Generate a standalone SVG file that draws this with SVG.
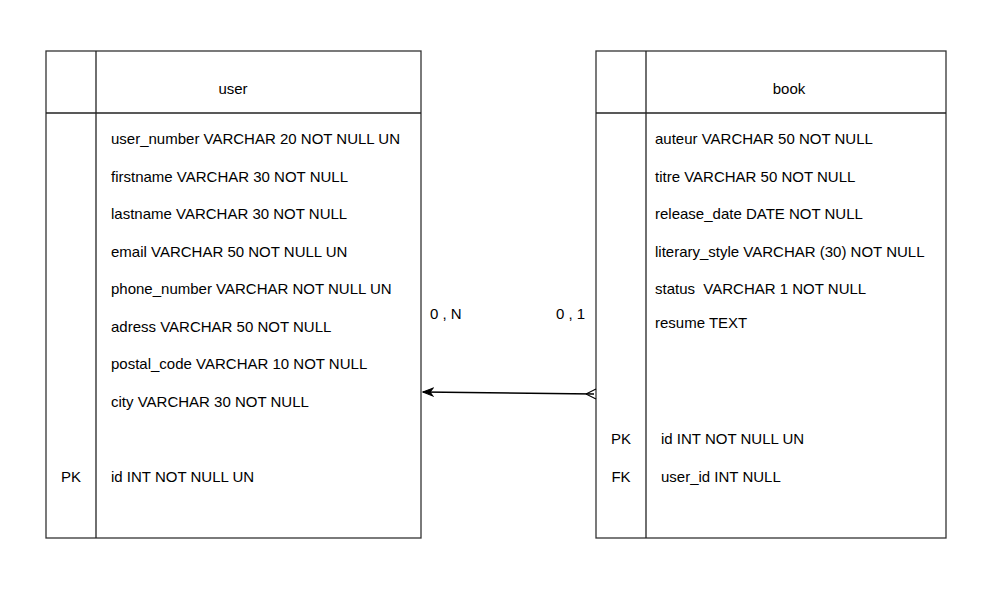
<svg xmlns="http://www.w3.org/2000/svg" width="997" height="596" viewBox="0 0 997 596">
<style>
.box{fill:#fff;stroke:#333;stroke-width:1.3}
.ln{stroke:#222;stroke-width:1.3;fill:none}
text{font-family:"Liberation Sans",Arial,sans-serif;font-size:15px;fill:#000;white-space:pre}
.c{text-anchor:middle}
</style>
<defs>
<marker id="arr" markerWidth="12" markerHeight="10" refX="11" refY="5" orient="auto" markerUnits="userSpaceOnUse">
<path d="M1,1 L11,5 L1,9 L4,5 Z" fill="#000" stroke="#000" stroke-width="1"/>
</marker>
</defs>
<rect width="997" height="596" fill="#fff"/>
<g id="user">
<rect class="box" x="46" y="51" width="375" height="487"/>
<line class="ln" x1="96" y1="51" x2="96" y2="538"/>
<line class="ln" x1="46" y1="113" x2="421" y2="113"/>
<text class="c" x="233" y="94">user</text>
<text x="111" y="144">user_number VARCHAR 20 NOT NULL UN</text>
<text x="111" y="182">firstname VARCHAR 30 NOT NULL</text>
<text x="111" y="219">lastname VARCHAR 30 NOT NULL</text>
<text x="111" y="257">email VARCHAR 50 NOT NULL UN</text>
<text x="111" y="294">phone_number VARCHAR NOT NULL UN</text>
<text x="111" y="332">adress VARCHAR 50 NOT NULL</text>
<text x="111" y="369">postal_code VARCHAR 10 NOT NULL</text>
<text x="111" y="407">city VARCHAR 30 NOT NULL</text>
<text class="c" x="71" y="482">PK</text>
<text x="111" y="482">id INT NOT NULL UN</text>
</g>
<g id="book">
<rect class="box" x="596" y="51" width="350" height="487"/>
<line class="ln" x1="646" y1="51" x2="646" y2="538"/>
<line class="ln" x1="596" y1="113" x2="946" y2="113"/>
<text class="c" x="789" y="94">book</text>
<text x="655" y="144">auteur VARCHAR 50 NOT NULL</text>
<text x="655" y="182">titre VARCHAR 50 NOT NULL</text>
<text x="655" y="219">release_date DATE NOT NULL</text>
<text x="655" y="257">literary_style VARCHAR (30) NOT NULL</text>
<text x="655" y="294">status  VARCHAR 1 NOT NULL</text>
<text x="655" y="328">resume TEXT</text>
<text class="c" x="621" y="444">PK</text>
<text x="661" y="444">id INT NOT NULL UN</text>
<text class="c" x="621" y="482">FK</text>
<text x="661" y="482">user_id INT NULL</text>
</g>
<g id="connectors">
<line x1="594" y1="394" x2="423" y2="392" stroke="#000" stroke-width="1.3" marker-end="url(#arr)"/>
<path d="M586,394 L596,389 M586,394 L596,399" stroke="#000" stroke-width="1.1" fill="none"/>
<text x="430" y="319">0 , N</text>
<text x="556" y="319">0 , 1</text>
</g>
</svg>
